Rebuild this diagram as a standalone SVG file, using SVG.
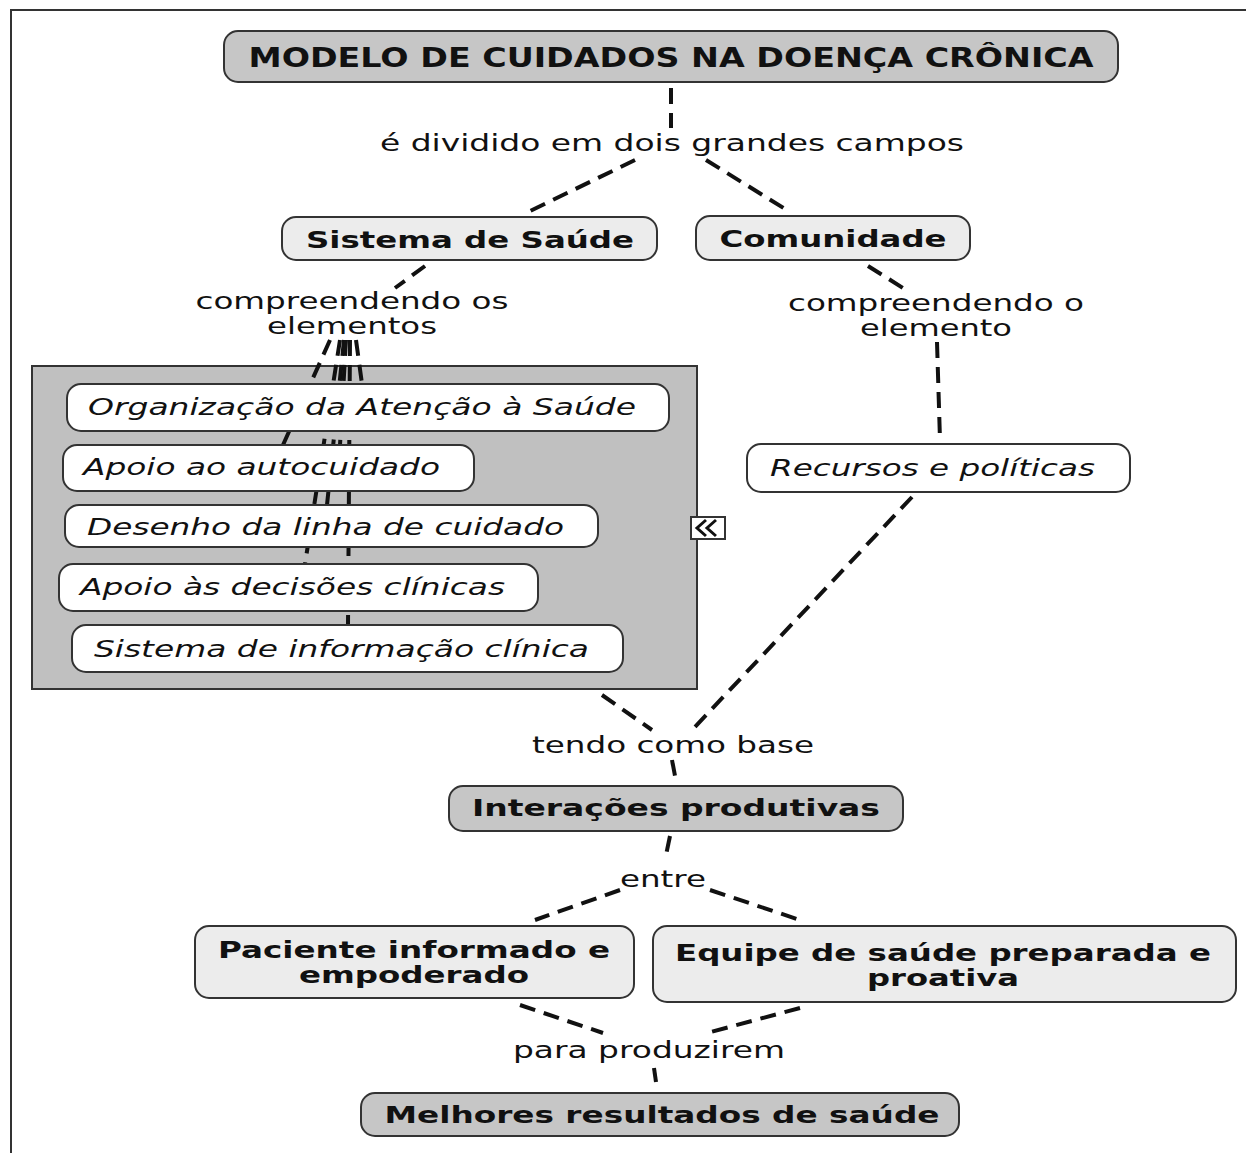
<svg xmlns="http://www.w3.org/2000/svg" width="1246" height="1153" viewBox="0 0 1246 1153">
<style>
.dk{fill:#c6c6c6;stroke:#333;stroke-width:2}
.lt{fill:#ececec;stroke:#333;stroke-width:2}
.wh{fill:#fff;stroke:#333;stroke-width:2}
.b{font-family:"DejaVu Sans",Verdana,sans-serif;font-weight:bold;fill:#111;text-anchor:middle;font-size:23px}
.n{font-family:"DejaVu Sans",Verdana,sans-serif;fill:#111;font-size:23px;text-anchor:middle}
.i{font-family:"DejaVu Sans",Verdana,sans-serif;font-style:italic;fill:#111;font-size:23px}
.c line{stroke:#111;stroke-width:4;stroke-dasharray:16 9}
</style>
<rect width="1246" height="1153" fill="#fff"/>
<path d="M11 1153V10H1246" fill="none" stroke="#333" stroke-width="2"/>
<g class="c" id="connectors">
<line x1="671" y1="88" x2="671" y2="128"/>
<line x1="635" y1="160" x2="528" y2="212"/>
<line x1="706" y1="160" x2="790" y2="212"/>
<line x1="425" y1="266" x2="395" y2="288"/>
<line x1="868" y1="266" x2="903" y2="288"/>
<line x1="937" y1="342" x2="940" y2="440"/>
<line x1="912" y1="497" x2="692" y2="730"/>
<line x1="602" y1="695" x2="652" y2="730"/>
<line x1="672" y1="760" x2="675" y2="776"/>
<line x1="670" y1="836" x2="665" y2="860"/>
<line x1="620" y1="890" x2="535" y2="920"/>
<line x1="710" y1="890" x2="800" y2="920"/>
<line x1="520" y1="1005" x2="603" y2="1033"/>
<line x1="800" y1="1008" x2="707" y2="1033"/>
<line x1="654" y1="1068" x2="656" y2="1082"/>
</g>
<g id="grupo-sistema">
<rect x="32" y="366" width="665" height="323" fill="#c0c0c0" stroke="#333" stroke-width="2"/>
<g class="c">
<line x1="330" y1="340" x2="283" y2="445"/>
<line x1="344" y1="340" x2="327" y2="505"/>
<line x1="340" y1="340" x2="305" y2="564"/>
<line x1="350" y1="340" x2="348" y2="625"/>
<line x1="356" y1="340" x2="362" y2="384"/>
<line x1="346" y1="340" x2="340" y2="445"/>
</g>
<g id="org"><rect class="wh" x="67" y="384" width="602" height="47" rx="14"/><text class="i" x="88" y="415" textLength="548" lengthAdjust="spacingAndGlyphs">Organização da Atenção à Saúde</text></g>
<g id="autocuidado"><rect class="wh" x="63" y="445" width="411" height="46" rx="14"/><text class="i" x="83" y="475" textLength="357" lengthAdjust="spacingAndGlyphs">Apoio ao autocuidado</text></g>
<g id="desenho"><rect class="wh" x="65" y="505" width="533" height="42" rx="14"/><text class="i" x="87" y="535" textLength="477" lengthAdjust="spacingAndGlyphs">Desenho da linha de cuidado</text></g>
<g id="decisoes"><rect class="wh" x="59" y="564" width="479" height="47" rx="14"/><text class="i" x="80" y="595" textLength="425" lengthAdjust="spacingAndGlyphs">Apoio às decisões clínicas</text></g>
<g id="informacao"><rect class="wh" x="72" y="625" width="551" height="47" rx="14"/><text class="i" x="94" y="657" textLength="495" lengthAdjust="spacingAndGlyphs">Sistema de informação clínica</text></g>
<g id="collapse"><rect x="691" y="517" width="34" height="22" fill="#fff" stroke="#333" stroke-width="2"/><path d="M706 520L697 528L706 536M716 520L707 528L716 536" fill="none" stroke="#111" stroke-width="3"/></g>
</g>
<g id="titulo"><rect class="dk" x="224" y="31" width="894" height="51" rx="14"/><text class="b" x="671" y="67" style="font-size:27px" textLength="845" lengthAdjust="spacingAndGlyphs">MODELO DE CUIDADOS NA DOENÇA CRÔNICA</text></g>
<g id="lbl-dividido"><text class="n" x="672" y="151" textLength="584" lengthAdjust="spacingAndGlyphs">é dividido em dois grandes campos</text></g>
<g id="sistema"><rect class="lt" x="282" y="217" width="375" height="43" rx="14"/><text class="b" x="470" y="248" textLength="328" lengthAdjust="spacingAndGlyphs">Sistema de Saúde</text></g>
<g id="comunidade"><rect class="lt" x="696" y="216" width="274" height="44" rx="14"/><text class="b" x="833" y="247" textLength="227" lengthAdjust="spacingAndGlyphs">Comunidade</text></g>
<g id="lbl-os"><text class="n" x="352" y="309" textLength="313" lengthAdjust="spacingAndGlyphs">compreendendo os</text><text class="n" x="352" y="334" textLength="170" lengthAdjust="spacingAndGlyphs">elementos</text></g>
<g id="lbl-o"><text class="n" x="936" y="311" textLength="296" lengthAdjust="spacingAndGlyphs">compreendendo o</text><text class="n" x="936" y="336" textLength="152" lengthAdjust="spacingAndGlyphs">elemento</text></g>
<g id="recursos"><rect class="wh" x="747" y="444" width="383" height="48" rx="14"/><text class="i" x="770" y="476" textLength="325" lengthAdjust="spacingAndGlyphs">Recursos e políticas</text></g>
<g id="lbl-base"><text class="n" x="673" y="753" textLength="282" lengthAdjust="spacingAndGlyphs">tendo como base</text></g>
<g id="interacoes"><rect class="dk" x="449" y="786" width="454" height="45" rx="14"/><text class="b" x="676" y="816" textLength="408" lengthAdjust="spacingAndGlyphs">Interações produtivas</text></g>
<g id="lbl-entre"><text class="n" x="663" y="887" textLength="86" lengthAdjust="spacingAndGlyphs">entre</text></g>
<g id="paciente"><rect class="lt" x="195" y="926" width="439" height="72" rx="14"/><text class="b" x="414" y="958" textLength="392" lengthAdjust="spacingAndGlyphs">Paciente informado e</text><text class="b" x="414" y="983" textLength="230" lengthAdjust="spacingAndGlyphs">empoderado</text></g>
<g id="equipe"><rect class="lt" x="653" y="926" width="583" height="76" rx="14"/><text class="b" x="943" y="961" textLength="536" lengthAdjust="spacingAndGlyphs">Equipe de saúde preparada e</text><text class="b" x="943" y="986" textLength="152" lengthAdjust="spacingAndGlyphs">proativa</text></g>
<g id="lbl-produzirem"><text class="n" x="649" y="1058" textLength="272" lengthAdjust="spacingAndGlyphs">para produzirem</text></g>
<g id="melhores"><rect class="dk" x="361" y="1093" width="598" height="43" rx="14"/><text class="b" x="662" y="1123" textLength="555" lengthAdjust="spacingAndGlyphs">Melhores resultados de saúde</text></g>
</svg>
